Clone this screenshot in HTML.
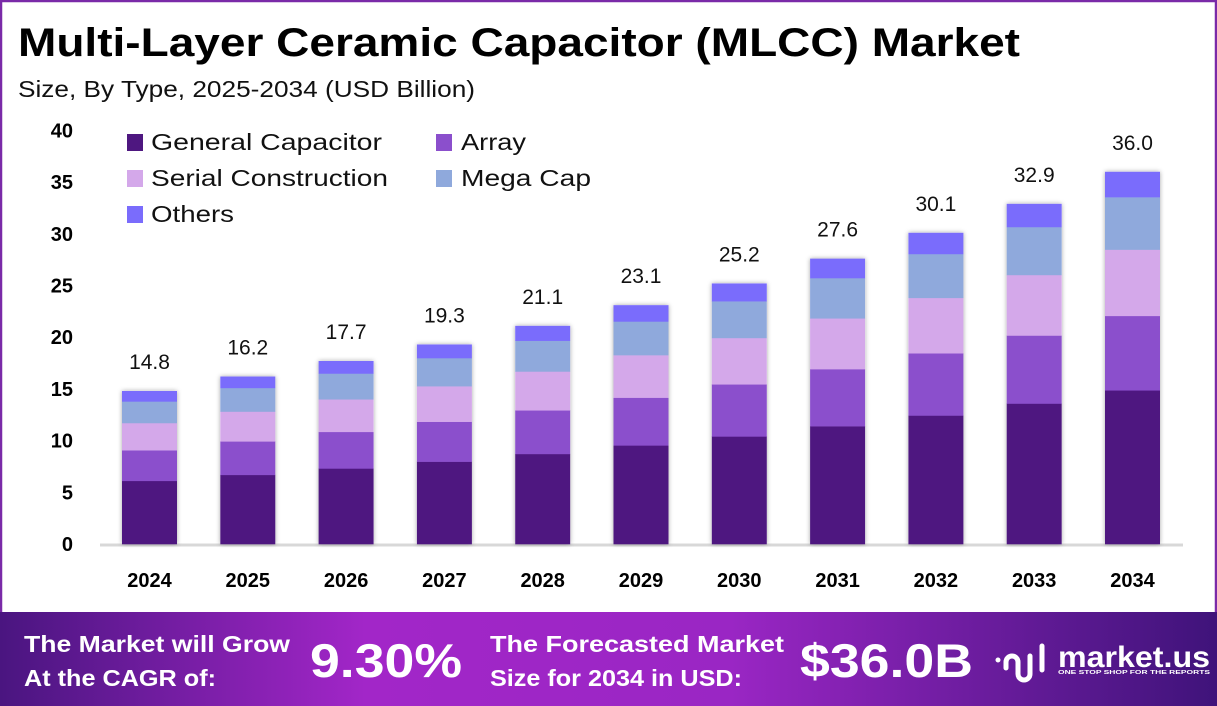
<!DOCTYPE html>
<html><head><meta charset="utf-8"><style>
html,body{margin:0;padding:0;background:#fff}
svg{display:block;font-family:"Liberation Sans",sans-serif}
</style></head><body>
<svg id="s" width="1217" height="706" viewBox="0 0 1217 706" xmlns="http://www.w3.org/2000/svg">
<defs>
<linearGradient id="bg" x1="0" x2="1" y1="0" y2="0">
<stop offset="0" stop-color="#4a1580"/><stop offset="0.3" stop-color="#a226c8"/><stop offset="0.6" stop-color="#9a26c4"/><stop offset="1" stop-color="#3f137a"/>
</linearGradient>
<filter id="sh" x="-20%" y="-5%" width="140%" height="110%"><feDropShadow dx="0" dy="0" stdDeviation="2.5" flood-color="#000" flood-opacity="0.35"/></filter>
</defs>
<rect x="1" y="1" width="1215" height="704" fill="#fff" stroke="#7a2aa8" stroke-width="2.5"/>
<text x="18" y="56" font-size="40" font-weight="bold" fill="#000" textLength="1002" lengthAdjust="spacingAndGlyphs">Multi-Layer Ceramic Capacitor (MLCC) Market</text>
<text x="18" y="97" font-size="23" fill="#111" textLength="457" lengthAdjust="spacingAndGlyphs">Size, By Type, 2025-2034 (USD Billion)</text>
<g font-size="20" font-weight="bold" text-anchor="end" fill="#000" id="yt"></g>
<line x1="100" y1="545" x2="1183" y2="545" stroke="#d8d8d8" stroke-width="3"/>
<g id="bars"></g>
<g font-size="23" fill="#111">
<rect x="127" y="134" width="16" height="17" fill="#4e1780"/><text x="151" y="150" textLength="231" lengthAdjust="spacingAndGlyphs">General Capacitor</text>
<rect x="436" y="134" width="16" height="17" fill="#8b4fcc"/><text x="461" y="150" textLength="65" lengthAdjust="spacingAndGlyphs">Array</text>
<rect x="127" y="170" width="16" height="17" fill="#d4a8ea"/><text x="151" y="186" textLength="237" lengthAdjust="spacingAndGlyphs">Serial Construction</text>
<rect x="436" y="170" width="16" height="17" fill="#8fa9dc"/><text x="461" y="186" textLength="130" lengthAdjust="spacingAndGlyphs">Mega Cap</text>
<rect x="127" y="206" width="16" height="17" fill="#7a6cfc"/><text x="151" y="222" textLength="83" lengthAdjust="spacingAndGlyphs">Others</text>
</g>
<rect x="0" y="612" width="1217" height="94" fill="url(#bg)"/>
<g fill="#fff" font-weight="bold">
<text x="24" y="652" font-size="23" textLength="266" lengthAdjust="spacingAndGlyphs">The Market will Grow</text>
<text x="24" y="686" font-size="23" textLength="192" lengthAdjust="spacingAndGlyphs">At the CAGR of:</text>
<text x="310" y="677" font-size="47" textLength="152" lengthAdjust="spacingAndGlyphs">9.30%</text>
<text x="490" y="652" font-size="23" textLength="294" lengthAdjust="spacingAndGlyphs">The Forecasted Market</text>
<text x="490" y="686" font-size="23" textLength="252" lengthAdjust="spacingAndGlyphs">Size for 2034 in USD:</text>
<text x="800" y="677" font-size="47" textLength="173" lengthAdjust="spacingAndGlyphs">$36.0B</text>
<text x="1058" y="667" font-size="30" textLength="152" lengthAdjust="spacingAndGlyphs">market.us</text>
<text x="1058" y="674" font-size="5.5" textLength="152" lengthAdjust="spacingAndGlyphs">ONE STOP SHOP FOR THE REPORTS</text>
</g>
<g fill="none" stroke="#fff" stroke-width="5" stroke-linecap="round">
<path d="M998 660 v0 M1006 668 v-6 a6 6 0 0 1 12 0 v12 a6 6 0 0 0 12 0 v-18 M1042 646 v24"/>
</g>
</svg>
<script>
var ns="http://www.w3.org/2000/svg",yt=document.getElementById("yt"),bars=document.getElementById("bars");
function el(t,a,p,tx){var e=document.createElementNS(ns,t);for(var k in a)e.setAttribute(k,a[k]);if(tx)e.textContent=tx;p.appendChild(e);return e;}
var base=544,sc=10.34;
for(var v=0;v<=40;v+=5)el("text",{x:73,y:base-v*sc+7},yt,String(v));
var tot=[14.8,16.2,17.7,19.3,21.1,23.1,25.2,27.6,30.1,32.9,36.0];
var pr=[0.413,0.2,0.178,0.141,0.068],col=["#4e1780","#8b4fcc","#d4a8ea","#8fa9dc","#7a6cfc"];
tot.forEach(function(t,i){
 var x=122+i*98.3,w=55,g=el("g",{},bars),acc=0;
 el("rect",{x:x,y:base-t*sc,width:w,height:t*sc,fill:"#fff",filter:"url(#sh)"},g);
 pr.forEach(function(p,j){var h=t*p*sc;el("rect",{x:x,y:base-(acc*sc)-h,width:w,height:h+0.3,fill:col[j]},g);acc+=t*p;});
 el("text",{x:x+w/2,y:base-t*sc-22,"font-size":21,"text-anchor":"middle",fill:"#111"},g,t.toFixed(1));
 el("text",{x:x+w/2,y:587,"font-size":20,"font-weight":"bold","text-anchor":"middle",fill:"#000"},g,String(2024+i));
});
</script>
</body></html>
